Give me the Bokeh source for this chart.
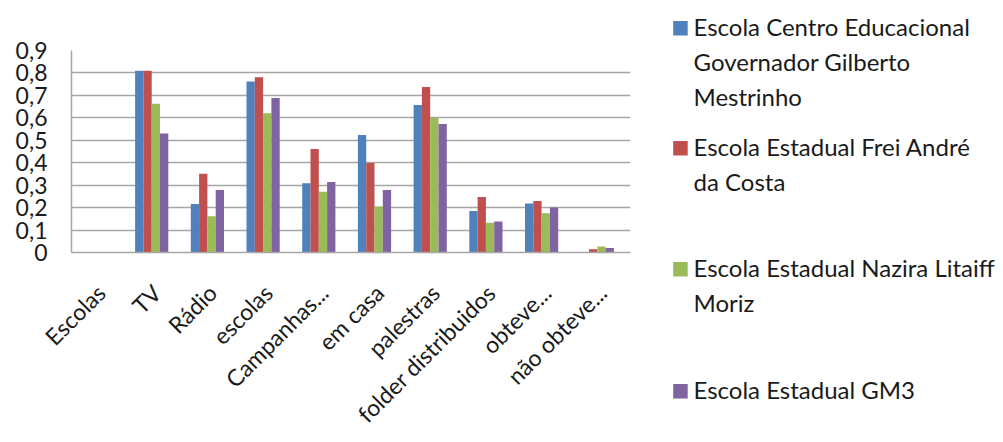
import math

from bokeh.embed import file_html
from bokeh.resources import INLINE
from bokeh.plotting import figure
from bokeh.layouts import row
from bokeh.models import ColumnDataSource, Range1d, FixedTicker, CustomJSTickFormatter
from bokeh.transform import dodge
from bokeh.core.properties import value

# Categories along the x axis
categories = ["Escolas", "TV", "Rádio", "escolas", "Campanhas...", "em casa",
              "palestras", "folder distribuidos", "obteve...", "não obteve..."]

# Share of answers per school
centro_educacional = [0.0, 0.81, 0.216, 0.762, 0.308, 0.523, 0.657, 0.185, 0.218, 0.0]
frei_andre = [0.0, 0.81, 0.351, 0.781, 0.461, 0.399, 0.737, 0.247, 0.23, 0.015]
nazira = [0.0, 0.663, 0.161, 0.62, 0.271, 0.205, 0.599, 0.132, 0.175, 0.027]
gm3 = [0.0, 0.53, 0.279, 0.688, 0.314, 0.279, 0.572, 0.138, 0.2, 0.02]

series_names = [
    "Escola Centro Educacional\nGovernador Gilberto\nMestrinho",
    "Escola Estadual Frei André\nda Costa",
    "Escola Estadual Nazira Litaiff\nMoriz",
    "Escola Estadual GM3",
]
series_colors = ["#4F81BD", "#C0504D", "#9BBB59", "#8064A2"]

y_ticks = [0.0, 0.1, 0.2, 0.3, 0.4, 0.5, 0.6, 0.7, 0.8, 0.9]

FONT = "Lato"
GRID = "#a6a6a6"
TEXT = "#1a1a1a"

source = ColumnDataSource(dict(
    x=list(range(len(categories))),
    s0=centro_educacional,
    s1=frei_andre,
    s2=nazira,
    s3=gm3,
))

p = figure(width=660, height=442,
           x_range=Range1d(-0.44, 9.596), y_range=Range1d(0, 0.9),
           output_backend="svg", toolbar_location=None,
           min_border_left=71, min_border_right=30,
           min_border_top=50, min_border_bottom=190)
p.frame_align = False
p.outline_line_color = None
p.background_fill_color = "white"
p.border_fill_color = "white"

bar_w = 0.149
offsets = [-1.5 * bar_w, -0.5 * bar_w, 0.5 * bar_w, 1.5 * bar_w]
for i, (off, col) in enumerate(zip(offsets, series_colors)):
    p.vbar(x=dodge("x", off), top=f"s{i}", width=bar_w, bottom=0,
           source=source, fill_color=col, line_color=None)

# y axis
p.yaxis.ticker = FixedTicker(ticks=y_ticks)
p.yaxis.formatter = CustomJSTickFormatter(
    code="return tick === 0 ? '0' : tick.toFixed(1).replace('.', ',');")
p.yaxis.major_tick_line_color = None
p.yaxis.minor_tick_line_color = None
p.yaxis.major_tick_out = 0
p.yaxis.major_tick_in = 0
p.yaxis.major_label_standoff = 24
p.yaxis.axis_line_color = GRID
p.yaxis.axis_line_width = 1.5
p.yaxis.major_label_text_font = FONT
p.yaxis.major_label_text_font_size = "23px"
p.yaxis.major_label_text_color = TEXT

# x axis: slanted category names, each label ending just right of its group
label_shift = 0.09
p.xaxis.ticker = FixedTicker(ticks=[i + label_shift for i in range(len(categories))])
p.xaxis.formatter = CustomJSTickFormatter(
    args=dict(cats=categories), code="return cats[Math.round(tick)];")
p.xaxis.major_label_orientation = math.pi / 4
p.xaxis.major_tick_line_color = None
p.xaxis.minor_tick_line_color = None
p.xaxis.major_tick_out = 0
p.xaxis.major_tick_in = 0
p.xaxis.major_label_standoff = 36
p.xaxis.axis_line_color = GRID
p.xaxis.axis_line_width = 1.5
p.xaxis.major_label_text_font = FONT
p.xaxis.major_label_text_font_size = "23px"
p.xaxis.major_label_text_color = TEXT

p.xgrid.visible = False
p.ygrid.grid_line_color = GRID
p.ygrid.grid_line_width = 1.5

# Legend panel, drawn in pixel-like coordinates (y grows downward)
lg = figure(width=343, height=442, x_range=Range1d(0, 343), y_range=Range1d(442, 0),
            output_backend="svg", toolbar_location=None,
            x_axis_location=None, y_axis_location=None, min_border=0)
lg.frame_align = False
lg.grid.visible = False
lg.outline_line_color = None
lg.border_fill_color = "white"

entry_baselines = [35, 155, 276, 398]
line_step = 35
sq_left, sq_size = 12.7, 14.5
txt_x = 33

sq_top, sq_bottom, sq_c = [], [], []
tx, ty, tt = [], [], []
for name, col, base in zip(series_names, series_colors, entry_baselines):
    sq_top.append(base - sq_size)
    sq_bottom.append(base)
    sq_c.append(col)
    for k, line in enumerate(name.split("\n")):
        tx.append(txt_x)
        ty.append(base - 9.5 + k * line_step)
        tt.append(line)

lg.quad(left=[sq_left] * len(sq_top), right=[sq_left + sq_size] * len(sq_top),
        top=sq_top, bottom=sq_bottom, fill_color=sq_c, line_color=None)
lg.text(x=tx, y=ty, text=tt, text_font=value(FONT), text_font_size="24px",
        text_baseline="middle", text_align="left", text_color=TEXT)

layout = row(p, lg)

with open("out.html", "w") as f:
    f.write(file_html(layout, INLINE))
